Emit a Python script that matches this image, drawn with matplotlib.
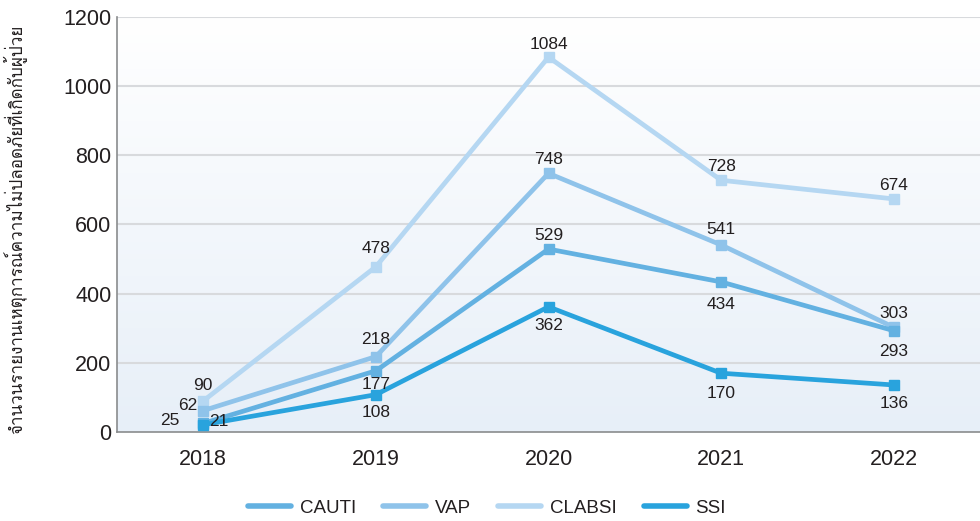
import numpy as np
import matplotlib
matplotlib.use("Agg")
import matplotlib.pyplot as plt
from matplotlib import font_manager
from matplotlib.colors import LinearSegmentedColormap
from matplotlib.lines import Line2D

years = ["2018", "2019", "2020", "2021", "2022"]
cauti = [25, 177, 529, 434, 293]
vap = [62, 218, 748, 541, 303]
clabsi = [90, 478, 1084, 728, 674]
ssi = [21, 108, 362, 170, 136]
ylabel = "จำนวนรายงานเหตุการณ์ความไม่ปลอดภัยที่เกิดกับผู้ป่วย"

# find a font with Thai glyphs
thai_font = None
try:
    from fontTools.ttLib import TTFont
    for f in font_manager.fontManager.ttflist:
        try:
            tt = TTFont(f.fname, fontNumber=0, lazy=True)
            cmap = tt.getBestCmap()
            if cmap and 0x0E08 in cmap and 0x0E1C in cmap:
                thai_font = f.name
                break
        except Exception:
            continue
except Exception:
    pass

base = "Liberation Sans"
plt.rcParams['font.family'] = [base, 'DejaVu Sans']

fig = plt.figure(figsize=(9.8, 5.21), dpi=100)
ax = fig.add_axes([117/980, 1 - 432/521, (980-117)/980, (432-17)/521])

x = np.arange(len(years))
ax.set_xlim(-0.5, 4.5)
ax.set_ylim(0, 1200)

# gradient background
cmap_bg = LinearSegmentedColormap.from_list("bg", ["#e7eff8", "#ffffff"])
grad = np.linspace(0, 1, 256).reshape(-1, 1)
ax.imshow(grad, aspect='auto', cmap=cmap_bg, extent=[-0.5, 4.5, 0, 1200],
          origin='lower', zorder=0)

for yv in range(200, 1201, 200):
    ax.axhline(yv, color="#d8dadd", lw=1.5, zorder=1)

c_cauti = "#63b1e1"
c_vap = "#8fc3ea"
c_clabsi = "#b5d7f2"
c_ssi = "#29a3dd"

series = [
    ("CLABSI", clabsi, c_clabsi),
    ("VAP", vap, c_vap),
    ("CAUTI", cauti, c_cauti),
    ("SSI", ssi, c_ssi),
]
lines = {}
for name, vals, col in series:
    ln, = ax.plot(x, vals, color=col, lw=3.4, marker='s', markersize=6.5,
                  solid_capstyle='butt', zorder=3, label=name)
    lines[name] = ln

fs = 12.5
tc = "#231f20"
def lab(xi, v, dx=0, dy=0, ha='center'):
    ax.annotate(str(v), (xi, v), xytext=(dx, dy), textcoords='offset points',
                ha=ha, va='center', fontsize=fs, color=tc, zorder=5)

# CLABSI above
lab(0, clabsi[0], 0, 11)
lab(1, clabsi[1], 0, 13)
lab(2, clabsi[2], 0, 9)
lab(3, clabsi[3], 0, 10)
lab(4, clabsi[4], 0, 10)
# VAP
lab(0, vap[0], -11, 4)
lab(1, vap[1], 0, 12)
lab(2, vap[2], 0, 10)
lab(3, vap[3], 0, 11)
lab(4, vap[4], 0, 10)
# CAUTI
lab(0, cauti[0], -24, 2)
lab(1, cauti[1], 0, -10)
lab(2, cauti[2], 0, 10)
lab(3, cauti[3], 0, -16.5)
lab(4, cauti[4], 0, -15)
# SSI
lab(0, ssi[0], 11.5, 2)
lab(1, ssi[1], 0, -12.5)
lab(2, ssi[2], 0, -13.7)
lab(3, ssi[3], 0, -14.5)
lab(4, ssi[4], 0, -13.7)

ax.set_xticks(x)
ax.set_xticklabels(years)
ax.set_yticks(range(0, 1201, 200))
ax.tick_params(axis='both', length=0, labelsize=15.5, colors=tc)
ax.tick_params(axis='x', pad=12)
ax.tick_params(axis='y', pad=4)

for s in ['top', 'right']:
    ax.spines[s].set_visible(False)
for s in ['left', 'bottom']:
    ax.spines[s].set_color("#8a8c8e")
    ax.spines[s].set_linewidth(1.2)

yl_family = [thai_font, base] if thai_font else [base, 'DejaVu Sans']
fig.text(14/980, 1 - 229/521, ylabel, rotation=90, ha='center', va='center',
         fontsize=12.3, color=tc, family=yl_family)

handles = [lines["CAUTI"], lines["VAP"], lines["CLABSI"], lines["SSI"]]
hs = [Line2D([0], [0], color=h.get_color(), lw=4, solid_capstyle='round') for h in handles]
fig.legend(hs, ["CAUTI", "VAP", "CLABSI", "SSI"], loc='center',
           bbox_to_anchor=(487/980, 1 - 508/521), ncol=4, frameon=False,
           fontsize=13.5, handlelength=2.3, columnspacing=1.45, handletextpad=0.45,
           labelcolor=tc)

fig.savefig("out.png", dpi=100)
